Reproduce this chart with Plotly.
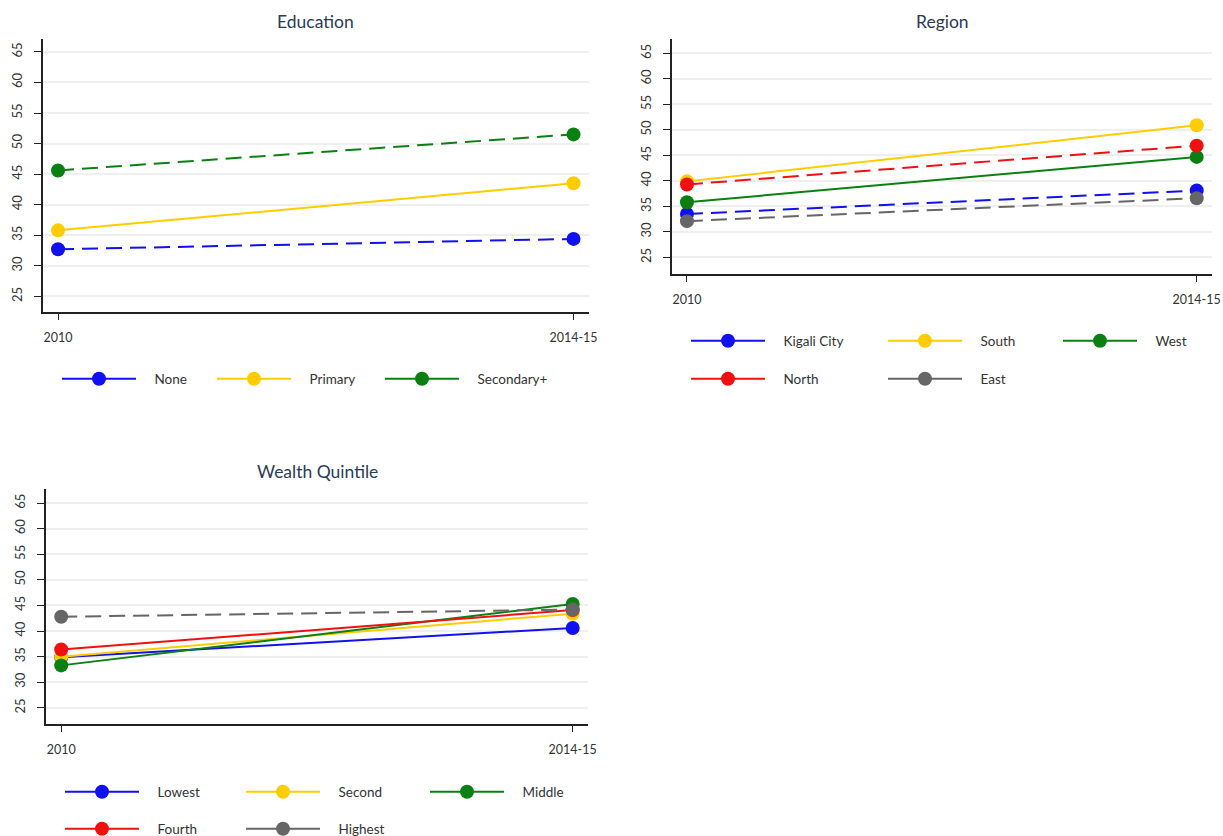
import plotly.graph_objects as go

# Survey rounds on the x axis
periods = ["2010", "2014-15"]

# Education
edu_none = [32.7, 34.4]
edu_primary = [35.8, 43.5]
edu_secondary = [45.6, 51.5]

# Region
reg_kigali = [33.5, 38.1]
reg_south = [39.9, 50.9]
reg_west = [35.8, 44.7]
reg_north = [39.3, 46.9]
reg_east = [32.1, 36.6]

# Wealth quintile
wq_lowest = [34.9, 40.6]
wq_second = [35.0, 43.4]
wq_middle = [33.3, 45.3]
wq_fourth = [36.4, 44.1]
wq_highest = [42.8, 44.2]

y_ticks = [25, 30, 35, 40, 45, 50, 55, 60, 65]

BLUE = "#1010f0"
YELLOW = "#ffcc00"
GREEN = "#0a8012"
RED = "#f01010"
GREY = "#666666"
DASH = "16px,8px"
FONT = "Lato, 'Open Sans', sans-serif"
KEY_GAP = "\u2002\u2002"  # space between a legend key and its label

# Legend key slots (left edge of key, vertical centre) in pixels, per panel
edu_cols, edu_rows = [57, 212, 380], [379]
reg_cols, reg_rows = [686, 883, 1058], [341, 379]
wq_cols, wq_rows = [60, 241, 425], [792, 829]

panels = [
    # (axis suffix, key columns, key rows, series: name, values, colour, dash, column, row)
    ("", edu_cols, edu_rows, [
        ("None", edu_none, BLUE, DASH, 0, 0),
        ("Primary", edu_primary, YELLOW, "solid", 1, 0),
        ("Secondary+", edu_secondary, GREEN, DASH, 2, 0),
    ]),
    ("2", reg_cols, reg_rows, [
        ("Kigali City", reg_kigali, BLUE, DASH, 0, 0),
        ("South", reg_south, YELLOW, "solid", 1, 0),
        ("West", reg_west, GREEN, "solid", 2, 0),
        ("North", reg_north, RED, DASH, 0, 1),
        ("East", reg_east, GREY, DASH, 1, 1),
    ]),
    ("3", wq_cols, wq_rows, [
        ("Lowest", wq_lowest, BLUE, "solid", 0, 0),
        ("Second", wq_second, YELLOW, "solid", 1, 0),
        ("Middle", wq_middle, GREEN, "solid", 2, 0),
        ("Fourth", wq_fourth, RED, "solid", 0, 1),
        ("Highest", wq_highest, GREY, DASH, 1, 1),
    ]),
]


def legend_box(x_px, y_px):
    return dict(
        orientation="h", x=x_px / 1223, y=1 - y_px / 836, xanchor="left", yanchor="middle",
        xref="paper", yref="paper", bgcolor="rgba(0,0,0,0)",
        font=dict(family=FONT, size=13.5, color="#333333"),
        itemwidth=74, itemclick=False, itemdoubleclick=False,
    )


fig = go.Figure()
legends = {}
n_key = 0

for suffix, cols, rows, series in panels:
    xa, ya = "x" + suffix, "y" + suffix
    for name, vals, color, dash, col, row in series:
        fig.add_trace(go.Scatter(
            x=periods, y=vals, mode="lines+markers", name=name,
            xaxis=xa, yaxis=ya, showlegend=False,
            line=dict(color=color, width=2, dash=dash),
            marker=dict(color=color, size=14),
            hoverinfo="x+y+name",
        ))
    # each legend key sits in its own slot and uses a solid line
    for name, vals, color, dash, col, row in series:
        n_key += 1
        lid = "legend" if n_key == 1 else f"legend{n_key}"
        legends[lid] = legend_box(cols[col], rows[row])
        fig.add_trace(go.Scatter(
            x=[None], y=[None], mode="lines+markers", name=KEY_GAP + name,
            xaxis=xa, yaxis=ya, legend=lid,
            line=dict(color=color, width=2),
            marker=dict(color=color, size=14),
        ))


def x_axis(domain, anchor):
    return dict(
        domain=domain, anchor=anchor, type="category",
        range=[-0.03, 1.03], showgrid=False, zeroline=False,
        showline=True, linecolor="#222222", linewidth=1.5,
        ticks="outside", ticklen=7, tickwidth=1.2, tickcolor="#222222",
        tickfont=dict(family=FONT, size=12.5, color="#333333"),
        ticklabelstandoff=7,
    )


def y_axis(domain, anchor, rng):
    return dict(
        domain=domain, anchor=anchor, range=rng,
        tickmode="array", tickvals=y_ticks, tickangle=-90,
        showgrid=True, gridcolor="#efefef", gridwidth=1.5, zeroline=False,
        showline=True, linecolor="#222222", linewidth=1.5,
        ticks="outside", ticklen=7, tickwidth=1.2, tickcolor="#222222",
        tickfont=dict(family=FONT, size=13, color="#333333"),
        ticklabelstandoff=7,
    )


title_font = dict(family=FONT, size=17.5, color="#2b3a55")


def title(text, x_px, y_px):
    return dict(text=text, x=x_px / 1223, y=1 - y_px / 836, xref="paper", yref="paper",
                xanchor="center", yanchor="middle", showarrow=False, font=title_font)


fig.update_layout(
    width=1223, height=836,
    margin=dict(l=0, r=0, t=0, b=0, autoexpand=False),
    paper_bgcolor="white", plot_bgcolor="white",
    xaxis=x_axis([0.0348, 0.4816], "y"),
    yaxis=y_axis([0.6272, 0.9533], "x", [22.5, 67.1]),
    xaxis2=x_axis([0.5492, 0.9910], "y2"),
    yaxis2=y_axis([0.6726, 0.9533], "x2", [21.8, 67.8]),
    xaxis3=x_axis([0.0375, 0.4808], "y3"),
    yaxis3=y_axis([0.1343, 0.4147], "x3", [21.9, 67.7]),
    annotations=[
        title("Education", 315, 22),
        title("Region", 942, 22),
        title("Wealth Quintile", 317, 472),
    ],
    **legends,
)

fig.write_html("out.html")
